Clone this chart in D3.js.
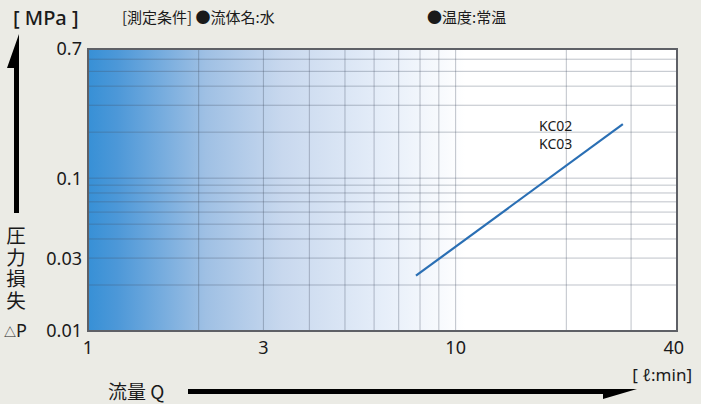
<!DOCTYPE html>
<html>
<head>
<meta charset="utf-8">
<script src="https://cdn.jsdelivr.net/npm/d3@7"></script>
<style>
  body { margin: 0; background: #ebebe5; }
  text { font-family: "Noto Sans", "Noto Sans CJK JP", sans-serif; fill: #1a1a1a; }
  .jp { font-family: "Noto Sans CJK JP", sans-serif; }
</style>
</head>
<body>
<div id="chart"></div>
<script>
// Values.
const xTicks = [1, 3, 10, 40];
const yTicks = [0.01, 0.03, 0.1, 0.7];
const xGrid = [2, 3, 4, 5, 6, 7, 8, 9, 10, 20, 30];
const yGrid = [0.02, 0.03, 0.04, 0.05, 0.06, 0.07, 0.08, 0.09, 0.1, 0.2, 0.3, 0.4, 0.5, 0.6];
const seriesName = ["KC02", "KC03"];
const flow = [7.8, 28.5];
const pressure = [0.023, 0.226];

const width = 701;
const height = 404;
const plotLeft = 88, plotRight = 677, plotTop = 49, plotBottom = 331;

const svg = d3.select("#chart")
    .append("svg")
    .attr("width", width)
    .attr("height", height);

const x = d3.scaleLog().domain([1, 40]).range([plotLeft, plotRight]);
const y = d3.scaleLog().domain([0.01, 0.7]).range([plotBottom, plotTop]);

// Blue-to-white gradient behind the grid.
const grad = svg.append("defs").append("linearGradient")
    .attr("id", "bg")
    .attr("x1", "0%").attr("x2", "100%").attr("y1", "0%").attr("y2", "0%");
grad.append("stop").attr("offset", "0%").attr("stop-color", "#3790d6");
grad.append("stop").attr("offset", "5%").attr("stop-color", "#4d98d8");
grad.append("stop").attr("offset", "20%").attr("stop-color", "#9fc0e4");
grad.append("stop").attr("offset", "33%").attr("stop-color", "#c8d8ee");
grad.append("stop").attr("offset", "50%").attr("stop-color", "#e6eef9");
grad.append("stop").attr("offset", "64%").attr("stop-color", "#ffffff");
grad.append("stop").attr("offset", "100%").attr("stop-color", "#ffffff");

svg.append("rect")
    .attr("x", plotLeft).attr("y", plotTop)
    .attr("width", plotRight - plotLeft).attr("height", plotBottom - plotTop)
    .attr("fill", "url(#bg)");

// Grid lines
svg.append("g").selectAll("line")
    .data(xGrid)
    .join("line")
    .attr("x1", d => x(d)).attr("x2", d => x(d))
    .attr("y1", plotTop).attr("y2", plotBottom)
    .attr("stroke", "rgba(70,80,100,0.35)")
    .attr("stroke-width", 1);

svg.append("g").selectAll("line")
    .data(yGrid)
    .join("line")
    .attr("x1", plotLeft).attr("x2", plotRight)
    .attr("y1", d => y(d)).attr("y2", d => y(d))
    .attr("stroke", "rgba(70,80,100,0.35)")
    .attr("stroke-width", 1);

// Frame
svg.append("rect")
    .attr("x", plotLeft).attr("y", plotTop)
    .attr("width", plotRight - plotLeft).attr("height", plotBottom - plotTop)
    .attr("fill", "none")
    .attr("stroke", "#5e6066")
    .attr("stroke-width", 2);

// Data line
const pts = flow.map((f, i) => ({ q: f, p: pressure[i] }));
svg.append("path")
    .datum(pts)
    .attr("fill", "none")
    .attr("stroke", "#2a6fb4")
    .attr("stroke-width", 2.2)
    .attr("d", d3.line().x(d => x(d.q)).y(d => y(d.p)));

seriesName.forEach((s, i) => {
    svg.append("text")
        .attr("x", 539).attr("y", 131 + i * 18)
        .attr("font-size", 14)
        .text(s);
});

// Tick labels
svg.append("g").selectAll("text")
    .data(yTicks)
    .join("text")
    .attr("x", 82)
    .attr("y", d => y(d))
    .attr("dy", "0.36em")
    .attr("text-anchor", "end")
    .attr("font-size", 18)
    .text(d => d);

svg.append("g").selectAll("text")
    .data(xTicks)
    .join("text")
    .attr("x", d => x(d))
    .attr("y", 354)
    .attr("text-anchor", (d, i) => i === xTicks.length - 1 ? "end" : "middle")
    .attr("dx", (d, i) => i === xTicks.length - 1 ? 7 : 0)
    .attr("font-size", 18)
    .text(d => d);

// Header texts
svg.append("text").attr("x", 13).attr("y", 25)
    .attr("font-size", 20).attr("font-weight", 500).text("[ MPa ]");
svg.append("text").attr("class", "jp").attr("x", 122).attr("y", 23)
    .attr("font-size", 15).text("[測定条件] ●流体名:水");
svg.append("text").attr("class", "jp").attr("x", 427).attr("y", 23)
    .attr("font-size", 15).text("●温度:常温");

// Vertical axis title (one vertical text)
svg.append("text").attr("class", "jp")
    .attr("x", 16).attr("y", 226)
    .attr("writing-mode", "vertical-rl")
    .style("writing-mode", "vertical-rl")
    .attr("letter-spacing", 2)
    .attr("font-size", 19.5)
    .text("圧力損失");

const dp = svg.append("text").attr("x", 4).attr("y", 337);
dp.append("tspan").attr("font-size", 12).text("△");
dp.append("tspan").attr("font-size", 18).text("P");

// Horizontal axis title
svg.append("text").attr("class", "jp").attr("x", 108).attr("y", 399)
    .attr("font-size", 19).text("流量 Q");
svg.append("text").attr("x", 692).attr("y", 381)
    .attr("text-anchor", "end")
    .attr("font-size", 17).text("[ ℓ:min]");

// Arrows
svg.append("path")
    .attr("d", "M14,213 L14,68 L7,68 L19,34 L19,213 Z")
    .attr("fill", "#000");
svg.append("path")
    .attr("d", "M188,389 L637,389 L603,399 L603,394 L188,394 Z")
    .attr("fill", "#000");
</script>
</body>
</html>
